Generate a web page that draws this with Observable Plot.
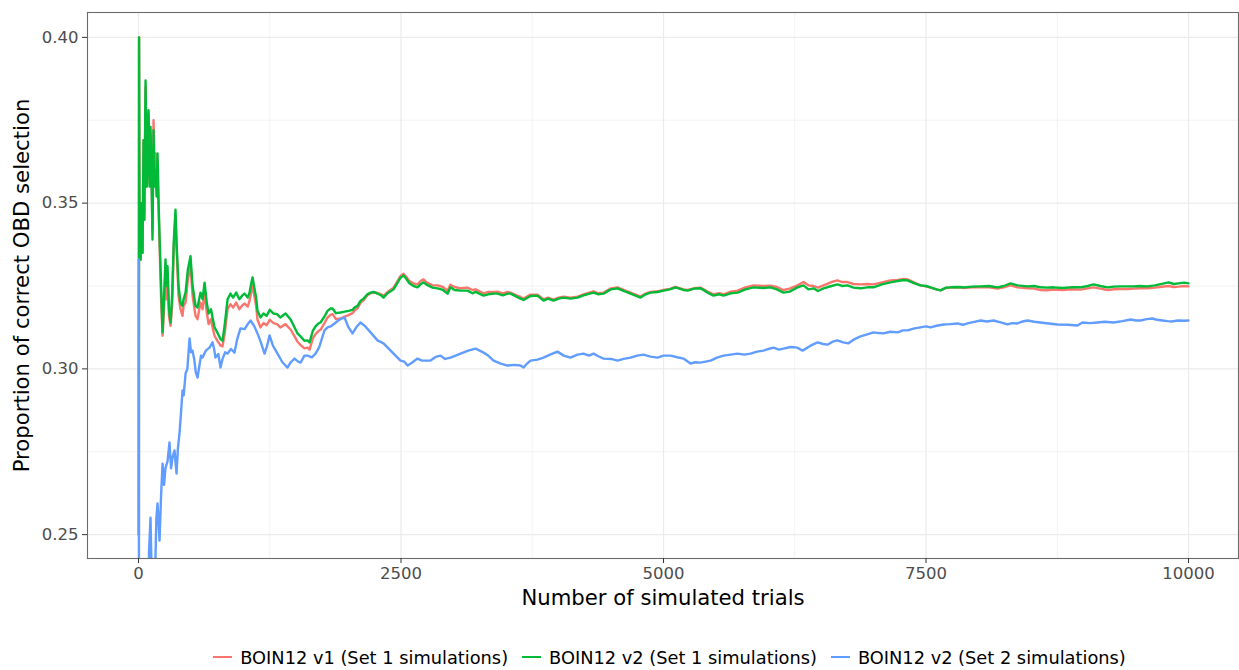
<!DOCTYPE html>
<html>
<head>
<meta charset="utf-8">
<script src="https://cdn.jsdelivr.net/npm/d3@7"></script>
<script src="https://cdn.jsdelivr.net/npm/@observablehq/plot@0.6"></script>
<style>
  html, body { margin: 0; padding: 0; background: #fff; }
  body { width: 1239px; height: 670px; overflow: hidden; font-family: "DejaVu Sans", sans-serif; }
  #legend { display: flex; justify-content: center; align-items: center; height: 40px; margin-top: 7px; padding-left: 100px; box-sizing: border-box; width: 1239px; font-size: 17.8px; color: #000; }
  .item { display: flex; align-items: center; margin: 0 7px; }
  .key { width: 19px; height: 2.4px; margin-right: 8px; }
</style>
</head>
<body>
<div id="chart"></div>
<div id="legend"></div>
<script>
const seriesNames = ["BOIN12 v1 (Set 1 simulations)", "BOIN12 v2 (Set 1 simulations)", "BOIN12 v2 (Set 2 simulations)"];
const seriesColors = ["#F8766D", "#00BA38", "#619CFF"];
const xTicks = [0, 2500, 5000, 7500, 10000];
const xMinorTicks = [1250, 3750, 6250, 8750];
const yTicks = [0.25, 0.30, 0.35, 0.40];
const yMinorTicks = [0.275, 0.325, 0.375];

// [trial, proportion]
const v1Set1 = [
[3,0.25],[5,0.40],[10,0.333],[15,0.35],[20,0.333],[28,0.35],[38,0.335],[48,0.369],[55,0.345],[67,0.385],[78,0.355],[86,0.366],[95,0.377],[105,0.356],[114,0.371],[125,0.357],[133,0.342],[143,0.375],[152,0.36],[162,0.365],[172,0.355],[181,0.362],[190,0.350],[200,0.338],[215,0.321],[229,0.310],[243,0.318],[257,0.330],[266,0.321],[276,0.328],[290,0.316],[305,0.313],[320,0.319],[335,0.336],[352,0.346],[362,0.337],[381,0.322],[400,0.318],[419,0.316],[429,0.319],[448,0.320],[470,0.327],[495,0.331],[515,0.322],[543,0.316],[562,0.315],[590,0.320],[610,0.318],[629,0.323],[650,0.317],[667,0.3135],[690,0.315],[705,0.3125],[724,0.310],[750,0.3085],[781,0.307],[800,0.3068],[820,0.3105],[848,0.318],[876,0.3195],[900,0.3185],[930,0.320],[960,0.318],[990,0.3192],[1010,0.3197],[1040,0.3188],[1057,0.3205],[1075,0.3235],[1086,0.325],[1100,0.3225],[1120,0.319],[1133,0.3148],[1162,0.3125],[1190,0.3138],[1220,0.3132],[1250,0.3148],[1286,0.3138],[1320,0.3135],[1350,0.3125],[1400,0.3135],[1419,0.3128],[1450,0.3118],[1486,0.3098],[1514,0.3082],[1543,0.3072],[1580,0.3062],[1610,0.3064],[1629,0.3058],[1660,0.3092],[1686,0.3105],[1714,0.3114],[1733,0.3118],[1771,0.3138],[1800,0.3155],[1829,0.3163],[1848,0.3165],[1880,0.3150],[1924,0.3152],[1952,0.3156],[2000,0.3162],[2038,0.3168],[2057,0.3176],[2086,0.3183],[2114,0.3199],[2143,0.3207],[2180,0.3222],[2210,0.3228],[2238,0.3231],
[2276,0.3229],[2310,0.3225],[2333,0.3219],[2371,0.3232],[2429,0.3245],[2467,0.3265],[2495,0.3280],[2524,0.3287],[2550,0.3278],[2580,0.3265],[2620,0.3258],[2657,0.3255],[2686,0.3265],[2714,0.3270],[2740,0.3262],[2762,0.3258],[2800,0.3252],[2848,0.3252],[2900,0.3247],[2943,0.3236],[2971,0.3254],[3010,0.3247],[3067,0.3243],[3133,0.3245],[3180,0.3238],[3210,0.3240],[3286,0.3228],[3330,0.3232],[3381,0.3232],[3419,0.3233],[3470,0.3228],[3514,0.3232],[3543,0.3230],[3600,0.3222],[3638,0.3217],[3667,0.3212],[3733,0.3224],[3800,0.3224],[3857,0.3210],[3900,0.3215],[3952,0.3209],[4000,0.3215],[4048,0.3218],[4114,0.3215],[4181,0.3218],[4238,0.3225],[4333,0.3234],[4380,0.3228],[4429,0.3230],[4500,0.3243],[4562,0.3246],[4620,0.3238],[4686,0.3230],[4740,0.3223],[4781,0.3218],[4830,0.3227],[4876,0.3232],[4943,0.3234],[5000,0.3238],[5060,0.3241],[5114,0.3247],[5190,0.3240],[5229,0.3238],[5290,0.3243],[5352,0.3245],[5420,0.3233],[5476,0.3225],[5530,0.3228],[5571,0.3225],[5640,0.3233],[5705,0.3236],[5780,0.3246],[5857,0.3252],[5950,0.3250],[6019,0.3251],[6080,0.3247],[6143,0.3238],[6200,0.3242],[6276,0.3252],[6333,0.3262],[6380,0.3252],[6429,0.3250],[6470,0.3245],[6524,0.3252],[6600,0.3262],[6657,0.3267],[6700,0.3262],[6752,0.3262],[6810,0.3256],[6876,0.3255],[6940,0.3256],[7000,0.3255],[7080,0.3261],[7162,0.3267],[7229,0.3268],[7290,0.3271],[7324,0.3270],[7390,0.3260],[7448,0.3252],[7500,0.3249],[7543,0.3245],[7600,0.3240],[7638,0.3237],[7690,0.3244],[7733,0.3245],[7800,0.3246],[7857,0.3244],[7940,0.3246],[8019,0.3246],[8100,0.3246],[8181,0.3242],[8240,0.3246],[8305,0.3252],[8371,0.3246],[8467,0.3243],[8530,0.3242],[8590,0.3238],[8650,0.3237],[8714,0.3239],[8800,0.3238],[8876,0.3240],[8971,0.3239],[9040,0.3243],[9095,0.3246],[9160,0.3242],[9229,0.3238],[9290,0.3240],[9352,0.3241],[9420,0.3241],[9476,0.3242],[9540,0.3243],[9610,0.3243],[9680,0.3245],[9724,0.3247],[9810,0.3250],[9860,0.3247],[9905,0.3248],[9960,0.3250],[10000,0.3249]
];

const v2Set1 = [
[3,0.25],[5,0.40],[10,0.333],[15,0.35],[20,0.333],[28,0.35],[38,0.335],[48,0.369],[55,0.345],[67,0.387],[78,0.355],[86,0.367],[95,0.378],[105,0.355],[114,0.373],[125,0.355],[133,0.339],[143,0.372],[152,0.355],[162,0.360],[172,0.352],[181,0.365],[190,0.351],[200,0.340],[215,0.325],[229,0.311],[243,0.322],[257,0.333],[266,0.325],[276,0.331],[290,0.318],[305,0.314],[320,0.322],[335,0.338],[352,0.348],[362,0.338],[381,0.325],[400,0.320],[419,0.319],[429,0.321],[448,0.323],[470,0.330],[495,0.334],[515,0.325],[543,0.319],[562,0.3185],[590,0.323],[610,0.321],[629,0.326],[650,0.320],[667,0.3167],[690,0.318],[705,0.3155],[724,0.3125],[750,0.311],[781,0.309],[800,0.3085],[820,0.313],[848,0.321],[876,0.3227],[900,0.3215],[930,0.323],[960,0.321],[990,0.3222],[1010,0.3227],[1040,0.3215],[1057,0.3230],[1075,0.326],[1086,0.3276],[1100,0.325],[1120,0.3215],[1133,0.3175],[1162,0.3155],[1190,0.3167],[1220,0.316],[1250,0.3178],[1286,0.3167],[1320,0.3165],[1350,0.3155],[1400,0.3167],[1419,0.3160],[1450,0.3148],[1486,0.3125],[1514,0.3107],[1543,0.3098],[1580,0.3085],[1610,0.3086],[1629,0.308],[1660,0.3115],[1686,0.3128],[1714,0.3137],[1733,0.3140],[1771,0.3158],[1800,0.3175],[1829,0.3182],[1848,0.3182],[1880,0.3168],[1924,0.3170],[1952,0.3172],[2000,0.3175],[2038,0.3178],[2057,0.3185],[2086,0.3190],[2114,0.3205],[2143,0.3212],[2180,0.3225],[2210,0.3230],[2238,0.3232],
[2276,0.3227],[2310,0.3222],[2333,0.3215],[2371,0.3228],[2429,0.3240],[2467,0.3260],[2495,0.3275],[2524,0.3282],[2550,0.3272],[2580,0.3258],[2620,0.3250],[2657,0.3246],[2686,0.3255],[2714,0.3261],[2740,0.3255],[2762,0.3251],[2800,0.3245],[2848,0.3243],[2900,0.3238],[2943,0.3227],[2971,0.3246],[3010,0.3238],[3067,0.3236],[3133,0.3236],[3180,0.3228],[3210,0.3232],[3286,0.3221],[3330,0.3225],[3381,0.3227],[3419,0.3227],[3470,0.3222],[3514,0.3227],[3543,0.3227],[3600,0.3218],[3638,0.3212],[3667,0.3208],[3733,0.3220],[3800,0.3221],[3857,0.3206],[3900,0.3212],[3952,0.3206],[4000,0.3212],[4048,0.3215],[4114,0.3212],[4181,0.3215],[4238,0.3222],[4333,0.3230],[4380,0.3225],[4429,0.3227],[4500,0.3240],[4562,0.3243],[4620,0.3235],[4686,0.3227],[4740,0.3220],[4781,0.3215],[4830,0.3225],[4876,0.3230],[4943,0.3232],[5000,0.3236],[5060,0.3240],[5114,0.3246],[5190,0.3238],[5229,0.3236],[5290,0.3242],[5352,0.3243],[5420,0.3230],[5476,0.3221],[5530,0.3225],[5571,0.3221],[5640,0.3228],[5705,0.3230],[5780,0.3240],[5857,0.3246],[5950,0.3244],[6019,0.3246],[6080,0.3240],[6143,0.3230],[6200,0.3233],[6276,0.3246],[6333,0.3252],[6380,0.3240],[6429,0.3243],[6470,0.3235],[6524,0.3243],[6600,0.3250],[6657,0.3255],[6700,0.3250],[6752,0.3252],[6810,0.3245],[6876,0.3243],[6940,0.3246],[7000,0.3246],[7080,0.3255],[7162,0.3261],[7229,0.3265],[7290,0.3268],[7324,0.3267],[7390,0.3258],[7448,0.3252],[7500,0.3250],[7543,0.3246],[7600,0.3240],[7638,0.3237],[7690,0.3245],[7733,0.3246],[7800,0.3247],[7857,0.3246],[7940,0.3248],[8019,0.3249],[8100,0.3250],[8181,0.3246],[8240,0.3250],[8305,0.3258],[8371,0.3252],[8467,0.3249],[8530,0.3250],[8590,0.3246],[8650,0.3245],[8714,0.3246],[8800,0.3244],[8876,0.3246],[8971,0.3246],[9040,0.3250],[9095,0.3255],[9160,0.3250],[9229,0.3246],[9290,0.3248],[9352,0.3249],[9420,0.3249],[9476,0.3249],[9540,0.3250],[9610,0.3249],[9680,0.3252],[9724,0.3255],[9810,0.3261],[9860,0.3256],[9905,0.3258],[9960,0.3260],[10000,0.3258]
];

const v2Set2 = [
[2,0.333],[5,0.20],[30,0.22],[60,0.235],[86,0.20],[100,0.245],[114,0.2551],[130,0.23],[152,0.23],[170,0.255],[181,0.2594],[200,0.2482],[215,0.262],[229,0.2714],[243,0.265],[257,0.2702],[276,0.272],[295,0.2778],[310,0.270],[324,0.2733],[343,0.2754],[352,0.272],[362,0.2684],[375,0.276],[390,0.2805],[405,0.287],[419,0.2935],[430,0.292],[448,0.2986],[465,0.300],[486,0.3092],[500,0.305],[514,0.3055],[530,0.303],[545,0.299],[562,0.2974],[580,0.301],[595,0.304],[610,0.3034],[640,0.3055],[676,0.3064],[705,0.3080],[720,0.306],[733,0.3034],[760,0.3045],[781,0.3004],[800,0.303],[825,0.305],[848,0.3046],[880,0.306],[914,0.3049],[940,0.309],[971,0.3122],[1010,0.312],[1040,0.3135],[1067,0.3146],[1100,0.313],[1133,0.3107],[1165,0.308],[1200,0.3046],[1225,0.307],[1248,0.3101],[1280,0.307],[1324,0.3046],[1370,0.302],[1419,0.3004],[1450,0.302],[1486,0.3031],[1520,0.3022],[1543,0.3019],[1580,0.304],[1610,0.3040],[1650,0.3035],[1686,0.3046],[1720,0.3065],[1771,0.3116],[1800,0.3125],[1829,0.3128],[1867,0.3137],[1910,0.3148],[1962,0.3155],[2000,0.3125],[2038,0.3107],[2080,0.3128],[2114,0.3140],[2160,0.3128],[2210,0.3110],[2276,0.3086],[2333,0.3077],[2380,0.3062],[2429,0.3046],[2495,0.3025],[2530,0.3022],[2562,0.3010],[2600,0.3018],[2657,0.3031],[2700,0.3025],[2781,0.3025],[2830,0.3036],[2876,0.3040],[2920,0.3030],[2971,0.3034],[3020,0.3040],[3067,0.3046],[3140,0.3055],[3210,0.3061],[3250,0.3055],[3286,0.3049],[3330,0.3040],[3381,0.3025],[3450,0.3016],[3514,0.3010],[3580,0.3012],[3638,0.3010],[3667,0.3004],[3700,0.3016],[3733,0.3025],[3800,0.3028],[3857,0.3034],[3920,0.3043],[3990,0.3052],[4050,0.3040],[4114,0.3034],[4181,0.3043],[4238,0.3046],[4290,0.3040],[4333,0.3046],[4380,0.3038],[4429,0.3031],[4500,0.3030],[4562,0.3025],[4620,0.3030],[4686,0.3034],[4750,0.3040],[4810,0.3043],[4876,0.3037],[4943,0.3034],[5000,0.3040],[5067,0.3040],[5130,0.3035],[5190,0.3031],[5257,0.3016],[5300,0.3020],[5352,0.3019],[5400,0.3022],[5448,0.3025],[5510,0.3034],[5571,0.3040],[5640,0.3043],[5705,0.3046],[5770,0.3043],[5829,0.3046],[5890,0.3052],[5952,0.3055],[6000,0.3060],[6048,0.3064],[6100,0.3058],[6143,0.3061],[6210,0.3066],[6276,0.3064],[6324,0.3055],[6400,0.3070],[6467,0.3080],[6520,0.3075],[6562,0.3073],[6610,0.3082],[6657,0.3086],[6710,0.3080],[6762,0.3077],[6820,0.3090],[6876,0.3098],[6940,0.3104],[7000,0.3110],[7050,0.3108],[7095,0.3107],[7160,0.3112],[7229,0.3110],[7280,0.3116],[7324,0.3116],[7390,0.3122],[7448,0.3125],[7500,0.3128],[7543,0.3125],[7600,0.3130],[7667,0.3134],[7730,0.3135],[7800,0.3137],[7850,0.3133],[7895,0.3137],[7960,0.3142],[8019,0.3146],[8080,0.3143],[8143,0.3146],[8210,0.3140],[8276,0.3134],[8320,0.3138],[8371,0.3137],[8420,0.3143],[8467,0.3146],[8530,0.3142],[8590,0.3140],[8670,0.3137],[8752,0.3134],[8850,0.3133],[8943,0.3131],[8990,0.3140],[9060,0.3138],[9133,0.3140],[9200,0.3142],[9286,0.3140],[9370,0.3144],[9448,0.3149],[9500,0.3146],[9543,0.3146],[9600,0.3150],[9657,0.3152],[9700,0.3148],[9752,0.3146],[9800,0.3144],[9838,0.3143],[9900,0.3146],[9960,0.3145],[10000,0.3146]
];

const seriesData = [v1Set1, v2Set1, v2Set2];
const rows = seriesData.flatMap((arr, i) => arr.map(([t, v]) => ({trial: t, value: v, series: seriesNames[i]})));

const chart = Plot.plot({
  width: 1239,
  height: 630,
  marginTop: 12,
  marginRight: 1,
  marginBottom: 72,
  marginLeft: 87,
  style: {fontFamily: "DejaVu Sans", background: "#fff", overflow: "visible"},
  x: {domain: [-486, 10476]},
  y: {domain: [0.2428, 0.4075]},
  color: {domain: seriesNames, range: seriesColors},
  marks: [
    Plot.gridX({ticks: xMinorTicks, stroke: "#ebebeb", strokeOpacity: 1, strokeWidth: 0.6}),
    Plot.gridY({ticks: yMinorTicks, stroke: "#ebebeb", strokeOpacity: 1, strokeWidth: 0.6}),
    Plot.gridX({ticks: xTicks, stroke: "#ebebeb", strokeOpacity: 1, strokeWidth: 1.2}),
    Plot.gridY({ticks: yTicks, stroke: "#ebebeb", strokeOpacity: 1, strokeWidth: 1.2}),
    Plot.line(rows, {x: "trial", y: "value", z: "series", stroke: "series", strokeWidth: 2.4, clip: true}),
    Plot.frame({stroke: "#6b6b6b", strokeWidth: 1.1}),
    Plot.axisX({ticks: xTicks, tickSize: 5, tickPadding: 4, fontSize: 16.5, fill: "#4d4d4d", stroke: "#333", label: null, tickFormat: d => String(d)}),
    Plot.axisY({ticks: yTicks, tickSize: 5, tickPadding: 4, fontSize: 16.5, fill: "#4d4d4d", stroke: "#333", label: null, tickFormat: d3.format(".2f")}),
    Plot.text(["Number of simulated trials"], {frameAnchor: "bottom", lineAnchor: "middle", textAnchor: "middle", dy: 40, fontSize: 21.2, fill: "#000"}),
    Plot.text(["Proportion of correct OBD selection"], {frameAnchor: "left", lineAnchor: "middle", textAnchor: "middle", dx: -65, rotate: -90, fontSize: 21.2, fill: "#000"})
  ]
});
document.getElementById("chart").appendChild(chart);

const legend = document.getElementById("legend");
seriesNames.forEach((name, i) => {
  const item = document.createElement("div");
  item.className = "item";
  const key = document.createElement("div");
  key.className = "key";
  key.style.background = seriesColors[i];
  const label = document.createElement("span");
  label.textContent = name;
  item.appendChild(key);
  item.appendChild(label);
  legend.appendChild(item);
});
</script>
</body>
</html>
